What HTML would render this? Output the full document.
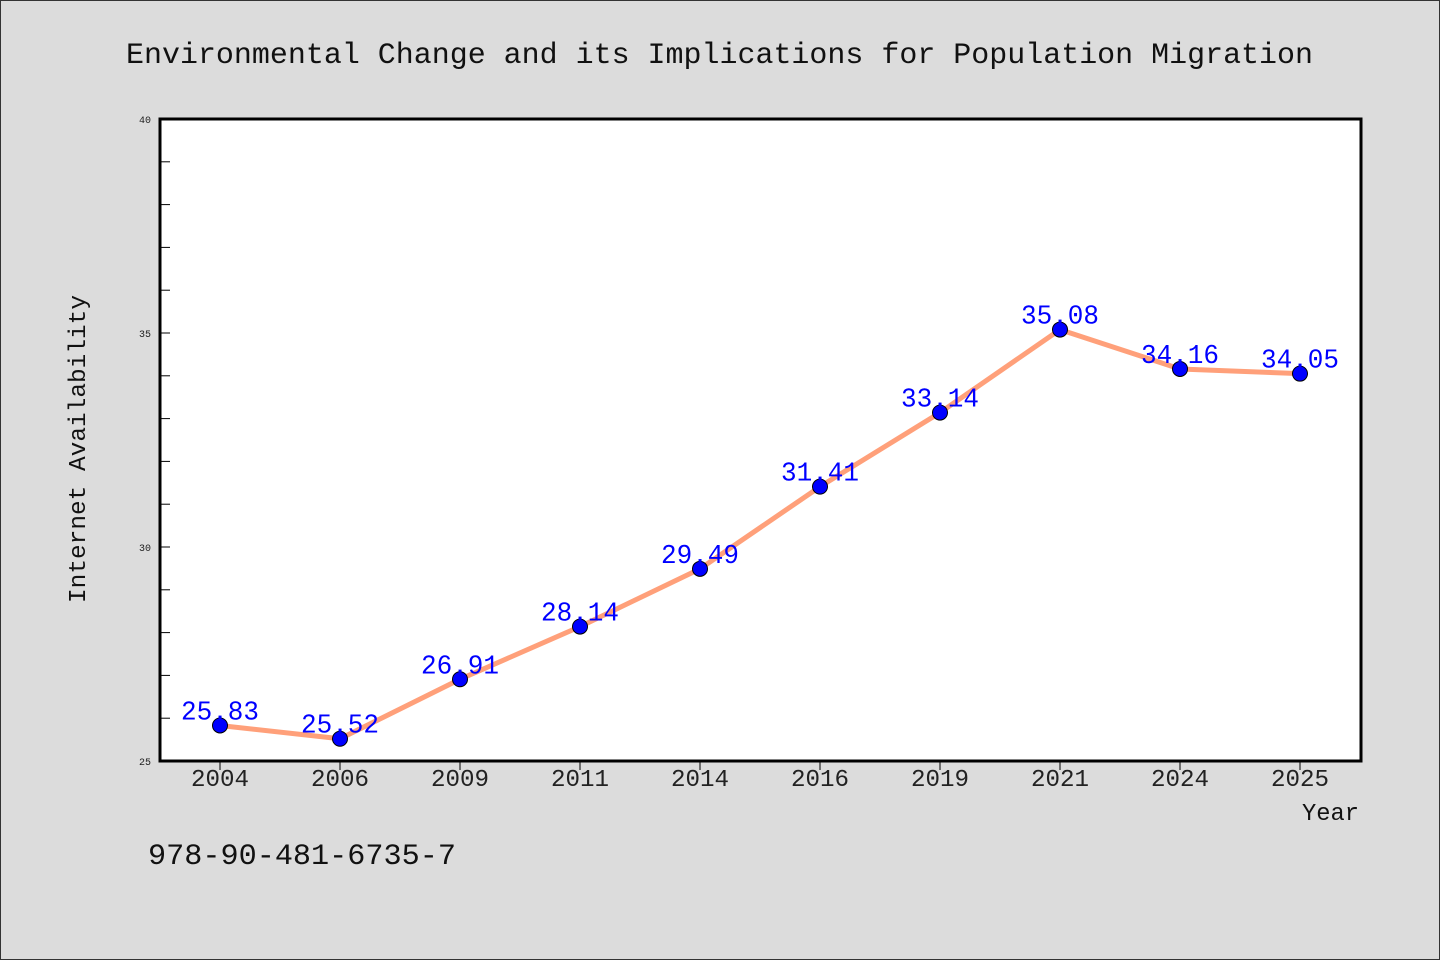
<!DOCTYPE html>
<html><head><meta charset="utf-8"><style>
body{margin:0;background:#dcdcdc;}
svg{display:block;font-family:"WenQuanYi Zen Hei Mono","WenQuanYi Zen Hei","Liberation Mono",monospace;}
</style></head><body>
<svg width="1440" height="960">
<rect x="0.5" y="0.5" width="1439" height="959" fill="#dcdcdc" stroke="#333"/>
<text x="126" y="63" textLength="1187" lengthAdjust="spacingAndGlyphs" font-size="30" fill="#111">Environmental Change and its Implications for Population Migration</text>
<rect x="160" y="119" width="1201" height="642" fill="#fff"/>
<g id="axes"></g>
<g id="marks"></g>
<rect x="160" y="119" width="1201" height="642" fill="none" stroke="#000" stroke-width="3"/>
<text transform="translate(85,603) rotate(-90)" textLength="308" lengthAdjust="spacingAndGlyphs" font-size="24" fill="#111">Internet Availability</text>
<text x="1302" y="820" textLength="57" lengthAdjust="spacingAndGlyphs" font-size="24" fill="#111">Year</text>
<text x="148" y="864" textLength="308" lengthAdjust="spacingAndGlyphs" font-size="30" fill="#111">978-90-481-6735-7</text>
</svg>
<script>
const categories=["2004","2006","2009","2011","2014","2016","2019","2021","2024","2025"];
const values=[25.83,25.52,26.91,28.14,29.49,31.41,33.14,35.08,34.16,34.05];
const yTickLabels=[25,30,35,40];
const NS="http://www.w3.org/2000/svg";
const yMin=25,yMax=40,plotTop=119,plotBot=761;
const y=v=>plotBot-(v-yMin)/(yMax-yMin)*(plotBot-plotTop);
const x=i=>220+i*120;
function mk(t,a,p){const e=document.createElementNS(NS,t);for(const k in a)e.setAttribute(k,a[k]);p.appendChild(e);return e;}
const ax=document.getElementById('axes'),mg=document.getElementById('marks');
for(let v=yMin;v<=yMax;v++){
 const t=mk('line',{x1:160,x2:170,y1:y(v),y2:y(v),stroke:'#000','stroke-width':1},ax);
 
 
}
yTickLabels.forEach(v=>{
 const t=mk('text',{x:151,y:y(v)+4,'text-anchor':'end','font-size':10,fill:'#222'},ax);t.textContent=v;
 
 
});
categories.forEach((c,i)=>{
 const t=mk('line',{x1:x(i),x2:x(i),y1:761,y2:770,stroke:'#000','stroke-width':1},ax);
 
 
 const l=mk('text',{x:x(i),y:786,'text-anchor':'middle','font-size':24,fill:'#222',textLength:58,lengthAdjust:'spacingAndGlyphs'},ax);l.textContent=c;
 
 
});
const pl=mk('polyline',{points:values.map((v,i)=>x(i)+','+y(v)).join(' '),fill:'none',stroke:'#ffa07a','stroke-width':5,'stroke-linejoin':'round'},mg);


values.forEach((v,i)=>{
 const c=mk('circle',{cx:x(i),cy:y(v),r:7.5,fill:'#0000ff',stroke:'#000','stroke-width':1},mg);
 
 
 const t=mk('text',{x:x(i),y:y(v)-6,'text-anchor':'middle','font-size':27,fill:'#0000ff',textLength:78,lengthAdjust:'spacingAndGlyphs'},mg);t.textContent=v.toFixed(2);
 
 
});
</script>
</body></html>
